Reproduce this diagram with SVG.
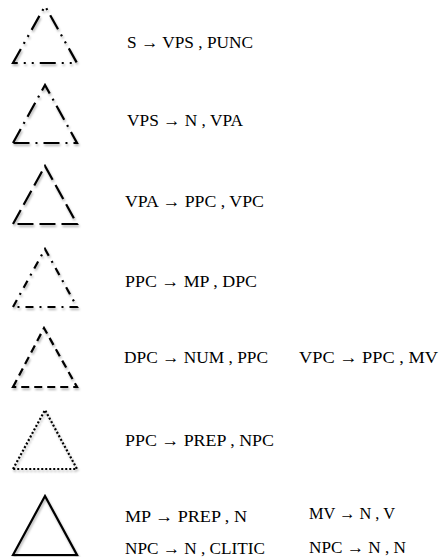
<svg xmlns="http://www.w3.org/2000/svg" width="440" height="557" viewBox="0 0 440 557">
<defs>
<filter id="sh" x="-20%" y="-20%" width="150%" height="150%">
<feDropShadow dx="1" dy="2" stdDeviation="1" flood-color="#000" flood-opacity="0.3"/>
</filter>
</defs>
<style>
.tri{fill:none;stroke:#000;stroke-width:2.2;stroke-linejoin:miter;filter:url(#sh)}
.t{font-family:"Liberation Serif","DejaVu Serif",serif;font-size:17.5px;fill:#000}
</style>
<rect width="440" height="557" fill="#fff"/>
<g id="tri1"><path class="tri" d="M13,63 L45,6 L77,63 Z" stroke-dasharray="16 6 2 6 2 6"/></g>
<g id="tri2"><path class="tri" d="M13,143 L45,85 L77,143 Z" stroke-dasharray="16 6 2 6"/></g>
<g id="tri3"><path class="tri" d="M13,224 L45,166 L77,224 Z" stroke-dasharray="16 6"/></g>
<g id="tri4"><path class="tri" d="M13,307 L45,249 L77,307 Z" stroke-dasharray="8 6 2 6"/></g>
<g id="tri5"><path class="tri" d="M13,387 L44,328 L77,387 Z" stroke-dasharray="8 5"/></g>
<g id="tri6"><path class="tri" d="M13,469 L45,410 L77,469 Z" stroke-dasharray="2 2"/></g>
<g id="tri7"><path class="tri" d="M13,555 L45,496 L77,555 Z"/></g>
<g id="rules">
<text class="t" x="127" y="48" textLength="126" lengthAdjust="spacingAndGlyphs">S → VPS , PUNC</text>
<text class="t" x="127" y="126" textLength="116" lengthAdjust="spacingAndGlyphs">VPS → N , VPA</text>
<text class="t" x="125" y="207" textLength="139" lengthAdjust="spacingAndGlyphs">VPA → PPC , VPC</text>
<text class="t" x="125" y="287" textLength="132" lengthAdjust="spacingAndGlyphs">PPC → MP , DPC</text>
<text class="t" x="124" y="363" textLength="144" lengthAdjust="spacingAndGlyphs">DPC → NUM , PPC</text>
<text class="t" x="299" y="363" textLength="139" lengthAdjust="spacingAndGlyphs">VPC → PPC , MV</text>
<text class="t" x="125" y="446" textLength="149" lengthAdjust="spacingAndGlyphs">PPC → PREP , NPC</text>
<text class="t" x="125" y="522" textLength="122" lengthAdjust="spacingAndGlyphs">MP → PREP , N</text>
<text class="t" x="309" y="519" textLength="86" lengthAdjust="spacingAndGlyphs">MV → N , V</text>
<text class="t" x="125" y="554" textLength="140" lengthAdjust="spacingAndGlyphs">NPC → N , CLITIC</text>
<text class="t" x="309" y="553" textLength="97" lengthAdjust="spacingAndGlyphs">NPC → N , N</text>
</g>
</svg>
